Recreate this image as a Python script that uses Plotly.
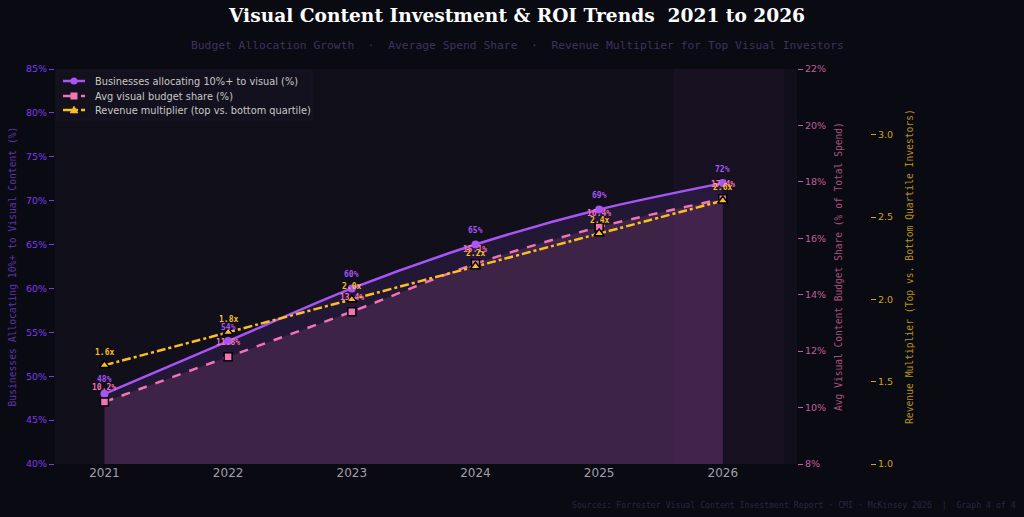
import plotly.graph_objects as go

years = [2021, 2022, 2023, 2024, 2025, 2026]
pct_allocating = [48, 54, 60, 65, 69, 72]
avg_budget_share = [10.2, 11.8, 13.4, 15.1, 16.4, 17.4]
revenue_multiplier = [1.6, 1.8, 2.0, 2.2, 2.4, 2.6]

left_ticks = [40, 45, 50, 55, 60, 65, 70, 75, 80, 85]
right_ticks = [8, 10, 12, 14, 16, 18, 20, 22]
mult_ticks = [1.0, 1.5, 2.0, 2.5, 3.0]

series_names = ["Businesses allocating 10%+ to visual (%)",
                "Avg visual budget share (%)",
                "Revenue multiplier (top vs. bottom quartile)"]

PURPLE = "#a855f7"
PINK = "#f472b6"
YELLOW = "#fbbf24"
FIG_BG = "#0a0a12"
PLOT_BG = "#110f1a"

W, H = 1024, 517
ML, MR, MT, MB = 55, 0, 69, 53
PW = W - ML - MR
PH = H - MT - MB
def px(x):
    return (x - ML) / PW
def py(y):
    return (H - MB - y) / PH

fig = go.Figure()

fig.add_trace(go.Scatter(
    x=years, y=pct_allocating, name=series_names[0],
    mode="lines+markers", line=dict(color=PURPLE, width=2.5, shape="spline", smoothing=0.8),
    marker=dict(symbol="circle", size=8, color=PURPLE),
    fill="tozeroy", fillcolor="rgba(168,85,247,0.12)", yaxis="y"))

fig.add_trace(go.Scatter(
    x=years, y=avg_budget_share, name=series_names[1],
    mode="lines+markers", line=dict(color=PINK, width=2.5, dash="dash", shape="spline", smoothing=0.8),
    marker=dict(symbol="square", size=8, color=PINK, line=dict(color="#000000", width=1.5)),
    fill="tozeroy", fillcolor="rgba(244,114,182,0.13)", yaxis="y2"))

fig.add_trace(go.Scatter(
    x=years, y=revenue_multiplier, name=series_names[2],
    mode="lines+markers", line=dict(color=YELLOW, width=2.5, dash="dashdot", shape="spline", smoothing=0.6),
    marker=dict(symbol="triangle-up", size=9, color=YELLOW, line=dict(color="#000000", width=1.5)),
    yaxis="y3"))

ann = []
lab_font = dict(family="DejaVu Sans Mono", size=8, weight="bold")
for x, v in zip(years, pct_allocating):
    ann.append(dict(x=x, y=v, xref="x", yref="y", text=f"{v}%", showarrow=False,
                    yshift=14, font=dict(lab_font, color=PURPLE)))
for x, v in zip(years, avg_budget_share):
    ann.append(dict(x=x, y=v, xref="x", yref="y2", text=f"{v:.1f}%", showarrow=False,
                    yshift=14, font=dict(lab_font, color=PINK)))
for x, v in zip(years, revenue_multiplier):
    ann.append(dict(x=x, y=v, xref="x", yref="y3", text=f"{v:.1f}x", showarrow=False,
                    yshift=13, font=dict(lab_font, color=YELLOW)))

# titles
ann.append(dict(x=px(516), y=py(16), xref="paper", yref="paper", showarrow=False,
                text="<b>Visual Content Investment &amp; ROI Trends  2021 to 2026</b>",
                font=dict(family="DejaVu Serif", size=18.6, color="#ffffff"),
                xanchor="center", yanchor="middle"))
ann.append(dict(x=px(517), y=py(46), xref="paper", yref="paper", showarrow=False,
                text="Budget Allocation Growth  ·  Average Spend Share  ·  Revenue Multiplier for Top Visual Investors",
                font=dict(family="DejaVu Sans Mono", size=11.3, color="#3f3260"),
                xanchor="center", yanchor="middle"))
ann.append(dict(x=px(1018), y=py(505), xref="paper", yref="paper", showarrow=False,
                text="Sources: Forrester Visual Content Investment Report · CMI · McKinsey 2026  |  Graph 4 of 4",
                font=dict(family="DejaVu Sans Mono", size=8.2, color="#2a2540"),
                xanchor="right", yanchor="middle"))
# axis titles
ann.append(dict(x=px(12), y=0.5, xref="paper", yref="paper", showarrow=False, textangle=-90,
                text="Businesses Allocating 10%+ to Visual Content (%)",
                font=dict(family="DejaVu Sans Mono", size=9.7, color="#5b34a6"),
                xanchor="center", yanchor="middle"))
ann.append(dict(x=px(838), y=py(267), xref="paper", yref="paper", showarrow=False, textangle=-90,
                text="Avg Visual Content Budget Share (% of Total Spend)",
                font=dict(family="DejaVu Sans Mono", size=9.6, color="#a8507f"),
                xanchor="center", yanchor="middle"))
ann.append(dict(x=px(909), y=py(267), xref="paper", yref="paper", showarrow=False, textangle=-90,
                text="Revenue Multiplier (Top vs. Bottom Quartile Investors)",
                font=dict(family="DejaVu Sans Mono", size=9.7, color="#b8901c"),
                xanchor="center", yanchor="middle"))

shapes = [dict(type="rect", xref="x", yref="paper", x0=2025.6, x1=2026.5, y0=0, y1=1,
               fillcolor="rgba(168,85,247,0.04)", line=dict(width=0), layer="below")]

# custom legend (compact, matplotlib-like)
shapes.append(dict(type="rect", xref="paper", yref="paper",
                   x0=px(57), x1=px(312), y0=py(120), y1=py(71),
                   fillcolor="#13111d", line=dict(color="#1b1828", width=0.8), layer="above"))
leg_y = [81, 96, 110]
leg_col = [PURPLE, PINK, YELLOW]
leg_dash = ["solid", "dash", "dashdot"]
for i in range(3):
    yy = py(leg_y[i])
    shapes.append(dict(type="line", xref="paper", yref="paper", x0=px(63), x1=px(85),
                       y0=yy, y1=yy, line=dict(color=leg_col[i], width=2.5, dash=leg_dash[i])))
    ann.append(dict(x=px(93), y=yy, xref="paper", yref="paper", showarrow=False,
                    text=series_names[i], xanchor="left", yanchor="middle",
                    font=dict(family="DejaVu Sans", size=9.8, color="#c8c8c8")))
# legend markers
shapes.append(dict(type="circle", xref="paper", yref="paper", x0=px(70.5), x1=px(77.5),
                   y0=py(84.5), y1=py(77.5), fillcolor=PURPLE, line=dict(width=0)))
shapes.append(dict(type="rect", xref="paper", yref="paper", x0=px(70.5), x1=px(77.5),
                   y0=py(99.5), y1=py(92.5), fillcolor=PINK, line=dict(width=0)))
tri = (f"M {px(74)},{py(106)} L {px(78)},{py(113)} L {px(70)},{py(113)} Z")
shapes.append(dict(type="path", xref="paper", yref="paper", path=tri,
                   fillcolor=YELLOW, line=dict(color=YELLOW, width=0.5)))

fig.update_layout(
    width=W, height=H,
    margin=dict(l=ML, r=MR, t=MT, b=MB, pad=0),
    paper_bgcolor=FIG_BG, plot_bgcolor=PLOT_BG,
    font=dict(family="DejaVu Sans"),
    showlegend=False,
    xaxis=dict(domain=[0, px(797)], range=[2020.6, 2026.6], tickvals=years,
               ticktext=[str(y) for y in years], showgrid=False, zeroline=False,
               ticks="", tickfont=dict(family="DejaVu Sans", size=12, color="#a0a0a8"),
               showline=False),
    yaxis=dict(range=[40, 85], tickvals=left_ticks, ticktext=[f"{t}%" for t in left_ticks],
               showgrid=False, zeroline=False, ticks="outside", ticklen=5, tickwidth=1,
               tickcolor="#7c3aed", tickfont=dict(family="DejaVu Sans", size=9.5, color="#7c3aed"),
               showline=False),
    yaxis2=dict(range=[8, 22], tickvals=right_ticks, ticktext=[f"{t}%" for t in right_ticks],
                overlaying="y", side="right", anchor="x", showgrid=False, zeroline=False,
                ticks="outside", ticklen=5, tickwidth=1, tickcolor="#c0609a",
                tickfont=dict(family="DejaVu Sans", size=9.5, color="#c0609a"), showline=False),
    yaxis3=dict(range=[1.0, 3.4], tickvals=mult_ticks, ticktext=[f"{t:.1f}" for t in mult_ticks],
                overlaying="y", side="right", anchor="free", position=px(870),
                showgrid=False, zeroline=False, ticks="outside", ticklen=5, tickwidth=1,
                tickcolor="#d4a020", tickfont=dict(family="DejaVu Sans", size=9.5, color="#d4a020"),
                showline=False),
    annotations=ann, shapes=shapes,
)

fig.write_html("out.html")
